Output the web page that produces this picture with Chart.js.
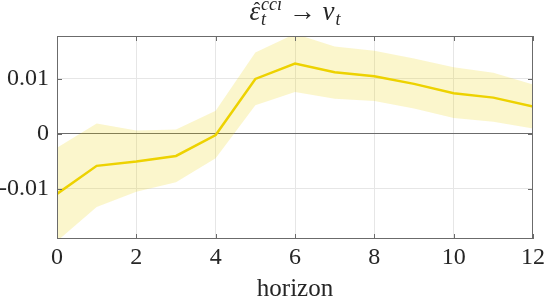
<!DOCTYPE html>
<html lang="en">
<head>
    <meta charset="UTF-8">
    <title>IRF cci shock</title>
    <script src="https://cdn.jsdelivr.net/npm/chart.js"></script>
    <style>
        body {
            margin: 0;
            padding: 0;
            background-color: #fff;
        }
        .wrap {
            width: 545px;
            height: 300px;
            position: relative;
        }
    </style>
</head>
<body>

<div class="wrap">
    <canvas id="irfChart" width="545" height="300"></canvas>
</div>

<script>
    // values
    const horizon = [0, 1, 2, 3, 4, 5, 6, 7, 8, 9, 10, 11, 12];
    const irf   = [-0.0109, -0.0058, -0.0050, -0.0040, -0.0002, 0.0100, 0.0128, 0.0112, 0.0105, 0.0091, 0.0074, 0.0066, 0.0050];
    const upper = [-0.0025, 0.0019, 0.0006, 0.0008, 0.0042, 0.0148, 0.0182, 0.0159, 0.0151, 0.0137, 0.0121, 0.0111, 0.0090];
    const lower = [-0.0195, -0.0133, -0.0105, -0.0088, -0.0044, 0.0052, 0.0076, 0.0064, 0.0060, 0.0046, 0.0029, 0.0022, 0.0010];
    const yTicks = [-0.01, 0, 0.01];
    const yTickLabels = ['-0.01', '0', '0.01'];
    const xLabel = 'horizon';

    const serif = '"Liberation Serif", "DejaVu Serif", serif';
    const lineColor = '#EDD200';
    const bandColor = 'rgba(237, 210, 0, 0.2)';
    const axisColor = '#6b6b6b';
    const gridColor = '#e6e6e6';

    function pts(ys) {
        return horizon.map((h, i) => ({ x: h, y: ys[i] }));
    }

    // box, inward ticks and the latex-ish title
    const frame = {
        id: 'frame',
        afterDatasetsDraw(chart) {
            const { ctx, chartArea: a, scales } = chart;
            ctx.save();
            ctx.strokeStyle = axisColor;
            ctx.lineWidth = 1;
            ctx.strokeRect(a.left + 0.5, a.top + 0.5, a.right - a.left - 1, a.bottom - a.top - 1);
            ctx.beginPath();
            scales.x.ticks.forEach(t => {
                const px = Math.round(scales.x.getPixelForValue(t.value)) + 0.5;
                ctx.moveTo(px, a.bottom); ctx.lineTo(px, a.bottom - 5);
                ctx.moveTo(px, a.top); ctx.lineTo(px, a.top + 5);
            });
            scales.y.ticks.forEach(t => {
                const py = Math.round(scales.y.getPixelForValue(t.value)) + 0.5;
                ctx.moveTo(a.left, py); ctx.lineTo(a.left + 5, py);
                ctx.moveTo(a.right, py); ctx.lineTo(a.right - 5, py);
            });
            ctx.stroke();
            ctx.restore();
        },
        afterDraw(chart) {
            const { ctx, chartArea: a } = chart;
            const big = 'italic 27px ' + serif;
            const small = 'italic 18px ' + serif;
            const rom = '27px ' + serif;
            const base = 20;
            ctx.save();
            ctx.fillStyle = '#262626';
            ctx.textBaseline = 'alphabetic';
            ctx.font = big; const wEps = ctx.measureText('\u03B5').width;
            ctx.font = small; const wSup = ctx.measureText('cci').width;
            ctx.font = rom; const wArr = ctx.measureText(' \u2192 ').width;
            ctx.font = big; const wV = ctx.measureText('v').width;
            ctx.font = small; const wT = ctx.measureText('t').width;
            const total = wEps + 1 + wSup + wArr + wV + 1 + wT;
            let x = (a.left + a.right) / 2 - total / 2;
            ctx.font = big;
            ctx.fillText('\u03B5', x, base);
            ctx.font = '20px ' + serif;
            ctx.textAlign = 'center';
            ctx.fillText('\u02C6', x + wEps / 2 + 2, base - 3);
            ctx.textAlign = 'left';
            x += wEps + 1;
            ctx.font = small;
            ctx.fillText('cci', x, base - 10);
            ctx.fillText('t', x, base + 5);
            x += wSup;
            ctx.font = rom;
            ctx.fillText(' \u2192 ', x, base);
            x += wArr;
            ctx.font = big;
            ctx.fillText('v', x, base);
            x += wV + 1;
            ctx.font = small;
            ctx.fillText('t', x, base + 5);
            ctx.restore();
        }
    };

    function plotChart() {
        const ctx = document.getElementById('irfChart').getContext('2d');

        new Chart(ctx, {
            type: 'line',
            data: {
                datasets: [
                    {
                        label: 'irf',
                        data: pts(irf),
                        borderColor: lineColor,
                        borderWidth: 2.5,
                        pointRadius: 0,
                        fill: false,
                        tension: 0,
                        order: 0
                    },
                    {
                        label: 'lower',
                        data: pts(lower),
                        borderWidth: 0,
                        borderColor: 'transparent',
                        backgroundColor: bandColor,
                        pointRadius: 0,
                        fill: '+1',
                        tension: 0,
                        order: 2
                    },
                    {
                        label: 'upper',
                        data: pts(upper),
                        borderWidth: 0,
                        borderColor: 'transparent',
                        pointRadius: 0,
                        fill: false,
                        tension: 0,
                        order: 3
                    }
                ]
            },
            options: {
                responsive: false,
                animation: false,
                events: [],
                layout: { padding: { left: 0, right: 0, top: 36, bottom: 0 } },
                plugins: {
                    legend: { display: false },
                    tooltip: { enabled: false }
                },
                scales: {
                    x: {
                        type: 'linear',
                        min: 0,
                        max: 12,
                        border: { display: false },
                        grid: {
                            drawTicks: false,
                            color: c => (c.tick.value === 0 || c.tick.value === 12) ? 'transparent' : gridColor
                        },
                        ticks: {
                            stepSize: 2,
                            padding: 4,
                            maxRotation: 0,
                            color: '#262626',
                            font: { family: serif, size: 24 }
                        },
                        title: {
                            display: true,
                            text: xLabel,
                            color: '#262626',
                            font: { family: serif, size: 25, lineHeight: 1 },
                            padding: { top: 0, bottom: -2 }
                        },
                        afterFit(s) {
                            s.height = 61;
                            s.paddingLeft = 0;
                            s.paddingRight = 12;
                        }
                    },
                    y: {
                        min: -0.0191,
                        max: 0.0178,
                        border: { display: false },
                        grid: {
                            drawTicks: false,
                            color: c => c.tick.value === 0 ? axisColor : gridColor
                        },
                        afterBuildTicks(s) { s.ticks = yTicks.map(v => ({ value: v })); },
                        ticks: {
                            padding: 8,
                            color: '#262626',
                            font: { family: serif, size: 24 },
                            callback: v => yTickLabels[yTicks.indexOf(v)]
                        },
                        afterFit(s) { s.width = 57; }
                    }
                }
            },
            plugins: [frame]
        });
    }

    document.addEventListener('DOMContentLoaded', plotChart);
</script>

</body>
</html>
